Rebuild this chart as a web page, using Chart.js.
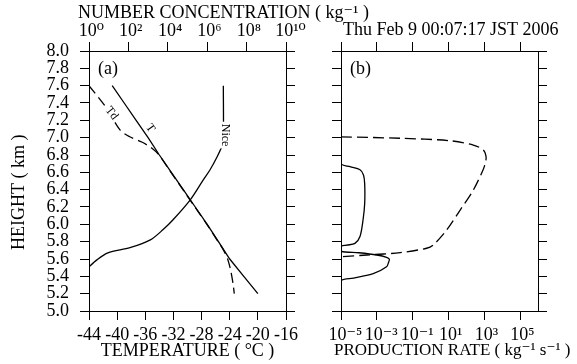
<!DOCTYPE html>
<html>
<head>
<meta charset="utf-8">
<script src="https://cdn.jsdelivr.net/npm/chart.js@4.4.1/dist/chart.umd.min.js"></script>
<style>
  html, body { margin: 0; padding: 0; background: #fff; }
  #wrap { position: relative; width: 577px; height: 364px; }
  #wrap canvas { position: absolute; left: 0; top: 0; }
</style>
</head>
<body>
<div id="wrap">
  <canvas id="panel-a" width="577" height="364"></canvas>
  <canvas id="panel-b" width="577" height="364"></canvas>
</div>
<script>
// --- datos ---

// eje vertical comun
const heightTicks = [5.0, 5.2, 5.4, 5.6, 5.8, 6.0, 6.2, 6.4, 6.6, 6.8, 7.0, 7.2, 7.4, 7.6, 7.8, 8.0];

// panel (a): temperatura, punto de rocio y concentracion de hielo
const tempTicks = [-44, -40, -36, -32, -28, -24, -20, -16];
const concTicks = [1e0, 1e2, 1e4, 1e6, 1e8, 1e10];

const heightT = [7.6, 7.4, 7.2, 7.0, 6.8, 6.6, 6.4, 6.2, 6.0, 5.8, 5.6, 5.4, 5.2];
const temperature = [-40.7, -39.0, -37.3, -35.6, -34.0, -32.3, -30.6, -28.9, -27.2, -25.6, -24.0, -22.0, -20.0];

const heightTd = [7.6, 7.34, 7.09, 7.01, 6.95, 6.88, 6.8, 6.6, 6.4, 6.2, 6.0, 5.8, 5.72, 5.6, 5.5, 5.4, 5.3, 5.2];
const dewPoint = [-44.0, -41.5, -39.6, -38.2, -36.5, -35.1, -34.05, -32.35, -30.65, -28.95, -27.25, -25.65, -25.0, -24.3, -23.95, -23.7, -23.5, -23.35];

const heightNice = [7.6, 6.97, 6.9, 6.78, 6.63, 6.51, 6.28, 6.05, 5.94, 5.82, 5.73, 5.67, 5.59, 5.51, 5.46];
const numberConc = [6.6e6, 6.6e6, 5.6e6, 3.2e6, 1.4e6, 6.2e5, 1.35e5, 1.8e4, 5.8e3, 1.3e3, 1.2e2, 9.1, 2.5, 1.0, 0.6];

// panel (b): tasas de produccion
const rateTicks = [1e-5, 1e-3, 1e-1, 1e1, 1e3, 1e5];

const heightRateSolid = [7.6, 6.705, 6.665, 6.63, 6.57, 6.47, 6.24, 6.05, 5.86, 5.78, 5.76, 5.745,
                         5.69, 5.672, 5.646, 5.62, 5.597, 5.56, 5.51, 5.43, 5.38, 5.35, 5.2];
const rateSolid = [1e-5, 1e-5, 3.2e-5, 1.15e-4, 1.8e-4, 2.1e-4, 2.1e-4, 1.7e-4, 1.15e-4, 6e-5, 2.1e-5, 1e-5,
                   1e-5, 1e-4, 1e-3, 3.5e-3, 5e-3, 4.5e-3, 3.5e-3, 6.3e-4, 5e-5, 1e-5, 1e-5];

const heightRateDashed = [7.01, 6.993, 6.965, 6.915, 6.858, 6.78, 6.71, 6.627, 6.396, 6.165, 5.935, 5.762, 5.724, 5.673, 5.646, 5.627];
const rateDashed = [1e-5, 0.02, 12, 245, 890, 1.26e3, 1.15e3, 850, 245, 45, 8, 1.43, 0.6, 0.02, 2.8e-4, 1e-5];

// --- utilidades ---
const FONT = "'Liberation Serif', 'Times New Roman', 'DejaVu Serif', serif";
Chart.defaults.font.family = FONT;
Chart.defaults.font.size = 18;
Chart.defaults.color = '#000';

const SUP = { '0': '⁰', '1': '¹', '2': '²', '3': '³', '4': '⁴', '5': '⁵', '6': '⁶', '7': '⁷', '8': '⁸', '9': '⁹', '-': '⁻' };
// "10" queda centrado en la marca y el exponente cuelga a la derecha
function powLabel(v) {
  const e = String(Math.round(Math.log10(v)));
  return ' '.repeat(e.length) + '10' + e.split('').map(c => SUP[c]).join('');
}

function points(xs, ys) {
  return xs.map((x, i) => ({ x: x, y: ys[i] }));
}

function setTicks(list) {
  return scale => { scale.ticks = list.map(v => ({ value: v })); };
}

const gridOut = { drawOnChartArea: false, drawTicks: true, tickLength: 9, color: '#000', lineWidth: 1 };
const borderOn = { display: true, color: '#000', width: 1 };

// etiqueta (a)/(b) en la esquina
function panelTag(text) {
  return {
    id: 'panelTag',
    afterDraw(chart) {
      const { ctx, chartArea } = chart;
      ctx.save();
      ctx.font = '18px ' + FONT;
      ctx.fillStyle = '#000';
      ctx.textBaseline = 'middle';
      ctx.fillText(text, chartArea.left + 9, chartArea.top + 18);
      ctx.restore();
    }
  };
}

// titulos largos: el titulo del eje de Chart.js se comprime al ancho del eje
function longTitles(list) {
  return {
    id: 'longTitles',
    afterDraw(chart) {
      const ctx = chart.ctx;
      ctx.save();
      ctx.fillStyle = '#000';
      ctx.textBaseline = 'middle';
      ctx.textAlign = 'left';
      list.forEach(t => {
        const s = chart.scales[t.scale];
        const y = s.position === 'top' ? s.top + t.dy : s.bottom - t.dy;
        ctx.font = (t.size || 18) + 'px ' + FONT;
        ctx.fillText(t.text, s.left + t.dx, y);
      });
      ctx.restore();
    }
  };
}

// etiquetas sobre las curvas del panel (a)
const curveLabels = {
  id: 'curveLabels',
  afterDatasetsDraw(chart) {
    const { ctx, scales } = chart;
    const items = [
      { text: 'Td', x: scales.x.getPixelForValue(-40.8), y: scales.y.getPixelForValue(7.28), angle: 52, clear: true },
      { text: 'T', x: scales.x.getPixelForValue(-35.3), y: scales.y.getPixelForValue(7.11), angle: 55, clear: false },
      { text: 'Nice', x: scales.x2.getPixelForValue(8.5e6), y: scales.y.getPixelForValue(7.03), angle: 90, clear: true }
    ];
    ctx.save();
    ctx.font = '12px ' + FONT;
    ctx.textAlign = 'center';
    ctx.textBaseline = 'middle';
    items.forEach(it => {
      ctx.save();
      ctx.translate(it.x, it.y);
      ctx.rotate(it.angle * Math.PI / 180);
      if (it.clear) {
        const w = ctx.measureText(it.text).width;
        ctx.fillStyle = '#fff';
        ctx.fillRect(-w / 2 - 2, -6, w + 4, 12);
      }
      ctx.fillStyle = '#000';
      ctx.fillText(it.text, 0, 0);
      ctx.restore();
    });
    ctx.restore();
  }
};

// --- panel (a) ---
new Chart(document.getElementById('panel-a'), {
  type: 'scatter',
  data: {
    datasets: [
      {
        label: 'T',
        data: points(temperature, heightT),
        xAxisID: 'x', yAxisID: 'y',
        showLine: true, borderColor: '#000', borderWidth: 1.3,
        pointRadius: 0, tension: 0
      },
      {
        label: 'Td',
        data: points(dewPoint, heightTd),
        xAxisID: 'x', yAxisID: 'y',
        showLine: true, borderColor: '#000', borderWidth: 1.3, borderDash: [10, 5],
        pointRadius: 0, tension: 0.3
      },
      {
        label: 'Nice',
        data: points(numberConc, heightNice),
        xAxisID: 'x2', yAxisID: 'y',
        showLine: true, borderColor: '#000', borderWidth: 1.3,
        pointRadius: 0, tension: 0.3
      }
    ]
  },
  options: {
    responsive: false,
    animation: false,
    devicePixelRatio: 1,
    layout: { padding: 0 },
    plugins: { legend: { display: false }, tooltip: { enabled: false } },
    scales: {
      x: {
        type: 'linear', position: 'bottom', min: -44, max: -16,
        afterBuildTicks: setTicks(tempTicks),
        afterFit: s => { s.height = 53; },
        grid: gridOut, border: borderOn,
        ticks: { padding: 4, maxRotation: 0, autoSkip: false },
        title: { display: true, text: 'TEMPERATURE ( °C )', padding: { top: 0, bottom: 2 } }
      },
      x2: {
        type: 'logarithmic', position: 'top', min: 1, max: 1e10,
        afterBuildTicks: setTicks(concTicks),
        afterFit: s => { s.height = 51; },
        grid: gridOut, border: borderOn,
        ticks: { padding: 0, maxRotation: 0, autoSkip: false, callback: v => powLabel(v) }
      },
      y: {
        type: 'linear', position: 'left', min: 5, max: 8,
        afterBuildTicks: setTicks(heightTicks),
        afterFit: s => { s.width = 89; },
        grid: gridOut, border: borderOn,
        ticks: { padding: 11, autoSkip: false, callback: v => v.toFixed(1) },
        title: { display: true, text: 'HEIGHT ( km )     ', padding: { top: 8, bottom: 0 } }
      },
      y2: {
        type: 'linear', position: 'right', min: 5, max: 8,
        afterBuildTicks: setTicks(heightTicks),
        afterFit: s => { s.width = 577 - 286; },
        grid: gridOut, border: borderOn,
        ticks: { display: false }
      }
    }
  },
  plugins: [
    curveLabels,
    panelTag('(a)'),
    longTitles([{ scale: 'x2', text: 'NUMBER CONCENTRATION ( kg⁻¹ )', dx: -11, dy: 13 }])
  ]
});

// --- panel (b) ---
new Chart(document.getElementById('panel-b'), {
  type: 'scatter',
  data: {
    datasets: [
      {
        label: 'solid',
        data: points(rateSolid, heightRateSolid),
        xAxisID: 'x', yAxisID: 'y',
        showLine: true, borderColor: '#000', borderWidth: 1.3,
        pointRadius: 0, tension: 0.3
      },
      {
        label: 'dashed',
        data: points(rateDashed, heightRateDashed),
        xAxisID: 'x', yAxisID: 'y',
        showLine: true, borderColor: '#000', borderWidth: 1.3, borderDash: [11, 5],
        pointRadius: 0, tension: 0.3
      }
    ]
  },
  options: {
    responsive: false,
    animation: false,
    devicePixelRatio: 1,
    layout: { padding: 0 },
    plugins: { legend: { display: false }, tooltip: { enabled: false } },
    scales: {
      x: {
        type: 'logarithmic', position: 'bottom', min: 1e-5, max: 1e6,
        afterBuildTicks: setTicks(rateTicks),
        afterFit: s => { s.height = 53; },
        grid: gridOut, border: borderOn,
        ticks: { padding: 4, maxRotation: 0, autoSkip: false, callback: v => powLabel(v) }
      },
      x2: {
        type: 'logarithmic', position: 'top', min: 1e-5, max: 1e6,
        afterBuildTicks: setTicks(rateTicks),
        afterFit: s => { s.height = 51; },
        grid: gridOut, border: borderOn,
        ticks: { display: false }
      },
      y: {
        type: 'linear', position: 'left', min: 5, max: 8,
        afterBuildTicks: setTicks(heightTicks),
        afterFit: s => { s.width = 341; },
        grid: gridOut, border: borderOn,
        ticks: { display: false }
      },
      y2: {
        type: 'linear', position: 'right', min: 5, max: 8,
        afterBuildTicks: setTicks(heightTicks),
        afterFit: s => { s.width = 577 - 538; },
        grid: gridOut, border: borderOn,
        ticks: { display: false }
      }
    }
  },
  plugins: [
    panelTag('(b)'),
    longTitles([
      { scale: 'x2', text: 'Thu Feb 9 00:07:17 JST 2006', dx: 2, dy: 30 },
      { scale: 'x', text: 'PRODUCTION RATE ( kg⁻¹ s⁻¹ )', dx: -7, dy: 13, size: 17 }
    ])
  ]
});
</script>
</body>
</html>
